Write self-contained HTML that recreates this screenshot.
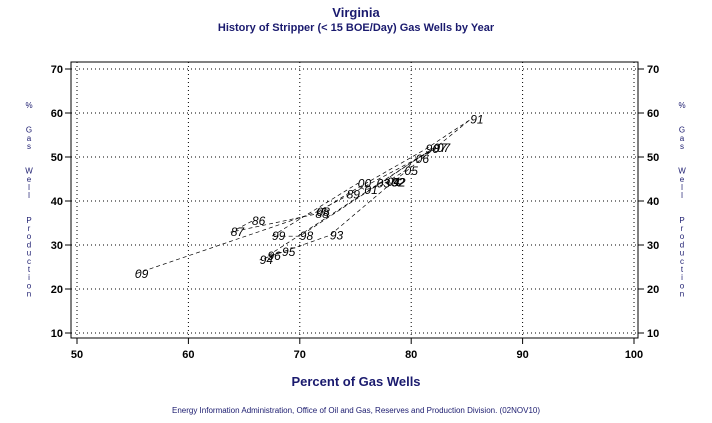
<!DOCTYPE html>
<html><head><meta charset="utf-8"><style>
body{margin:0;background:#fff;width:712px;height:418px;overflow:hidden;font-family:"Liberation Sans",sans-serif}
</style></head><body>
<svg width="712" height="418" viewBox="0 0 712 418">
<text x="356" y="17" text-anchor="middle" font-size="13" font-weight="bold" fill="#1a1a6e">Virginia</text>
<text x="356" y="31" text-anchor="middle" font-size="11" font-weight="bold" fill="#1a1a6e">History of Stripper (&lt; 15 BOE/Day) Gas Wells by Year</text>
<rect x="71" y="62" width="567" height="276" fill="none" stroke="#000"/>
<g id="grid"></g>
<g id="axes"></g>
<g id="series"></g>
<text x="356" y="386" text-anchor="middle" font-size="13" font-weight="bold" fill="#1a1a6e">Percent of Gas Wells</text>
<g id="ylab"></g>
<g id="ylab2"></g>
<text x="356" y="413" text-anchor="middle" font-size="8" fill="#1a1a6e">Energy Information Administration, Office of Oil and Gas, Reserves and Production Division. (02NOV10)</text>
</svg>
<script>
const years=["86","87","88","89","90","91","92","93","94","95","96","97","98","99","00","01","02","03","04","05","06","07","08","09"];
const pctWells=[65.7,63.8,71.4,74.2,81.3,85.3,78.3,72.7,66.4,68.4,67.1,82.0,70.0,67.5,75.2,75.8,78.2,76.9,77.8,79.4,80.4,82.3,71.5,55.2];
const pctProd=[35.4,32.9,37.0,41.5,51.8,58.5,44.2,32.2,26.6,28.4,27.5,52.0,32.0,32.0,44.0,42.5,44.2,44.0,44.3,46.8,49.6,52.0,37.5,23.4];
const xTicks=[50,60,70,80,90,100];
const yTicks=[10,20,30,40,50,60,70];
const NS="http://www.w3.org/2000/svg";
const X=v=>77+(v-50)*11.14, Y=v=>69+(70-v)*4.4;
function mk(t,a,p){const e=document.createElementNS(NS,t);for(const k in a)e.setAttribute(k,a[k]);p.appendChild(e);return e;}
const g=document.getElementById('grid'),ax=document.getElementById('axes'),s=document.getElementById('series');
xTicks.forEach(v=>{
 const l=mk('line',{x1:X(v),x2:X(v),y1:62,y2:338,stroke:'#000','stroke-dasharray':'1 3'},g);
 
 
 mk('line',{x1:X(v),x2:X(v),y1:338,y2:344,stroke:'#000'},ax);
 const t=mk('text',{x:X(v),y:358,'text-anchor':'middle','font-size':11,'font-weight':'bold'},ax);
 t.textContent=v;
 
 
});
yTicks.forEach(v=>{
 const l=mk('line',{x1:71,x2:638,y1:Y(v),y2:Y(v),stroke:'#000','stroke-dasharray':'1 3'},g);
 
 
 mk('line',{x1:65,x2:71,y1:Y(v),y2:Y(v),stroke:'#000'},ax);
 mk('line',{x1:638,x2:644,y1:Y(v),y2:Y(v),stroke:'#000'},ax);
 const t=mk('text',{x:63,y:Y(v)+4,'text-anchor':'end','font-size':11,'font-weight':'bold'},ax);
 t.textContent=v;
 
 
 const t2=mk('text',{x:647,y:Y(v)+4,'font-size':11,'font-weight':'bold'},ax);
 t2.textContent=v;
 
 
});
let d='';
years.forEach((y,i)=>{d+=(i?'L':'M')+X(pctWells[i])+' '+Y(pctProd[i]);});
const p=mk('path',{d:d,fill:'none',stroke:'#000','stroke-width':0.7,'stroke-dasharray':'4 3'},s);


years.forEach((y,i)=>{
 const t=mk('text',{x:X(pctWells[i]),y:Y(pctProd[i])+4,'font-size':12,'font-style':'italic','fill':'#000'},s);
 t.textContent=y;
 
 
});
const letters="%  Gas  Well  Production".split('');
[['ylab',29],['ylab2',682]].forEach(([id,x])=>{
 const grp=document.getElementById(id);
 letters.forEach((c,i)=>{if(c===' ')return;
  const t=mk('text',{x:x,y:108+i*8.2,'text-anchor':'middle','font-size':8,fill:'#1a1a6e'},grp);
  t.textContent=c;});
});
</script>
</body></html>
